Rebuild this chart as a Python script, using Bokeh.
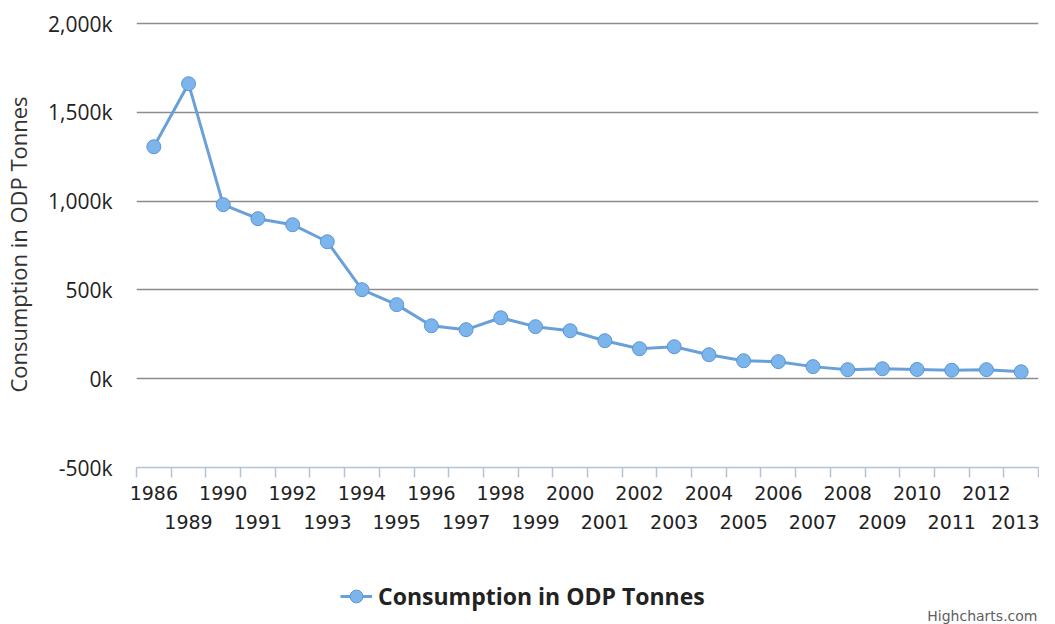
from bokeh.plotting import figure
from bokeh.layouts import column
from bokeh.models import (LinearAxis, FixedTicker, Range1d, Legend, LegendItem,
                          Label, Grid, ColumnDataSource)
from bokeh.embed import file_html
from bokeh.resources import INLINE

# ---- data ----
years = ["1986", "1989", "1990", "1991", "1992", "1993", "1994", "1995", "1996",
         "1997", "1998", "1999", "2000", "2001", "2002", "2003", "2004", "2005",
         "2006", "2007", "2008", "2009", "2010", "2011", "2012", "2013"]
consumption_k = [1306, 1661, 980, 901, 867, 771, 501, 417, 298, 276, 343, 293,
                 270, 214, 169, 180, 135, 101, 96, 68, 51, 56, 52, 48, 51, 39]
series_name = "Consumption in ODP Tonnes"
y_ticks = [-500, 0, 500, 1000, 1500, 2000]
y_tick_labels = ["-500k", "0k", "500k", "1,000k", "1,500k", "2,000k"]
credit_text = "Highcharts.com"

LINE_COLOR = "#6aa0da"
FILL_COLOR = "#7cb5ec"
EDGE_COLOR = "#5c96d2"
AXIS_COLOR = "#b4c4d4"
W = 1039
H_MAIN = 535
H_FOOT = 89
TOP_PAD_PX = 2          # room so the top grid line is not clipped
FRAME_H = 444           # pixel height of the y_ticks span

n = len(years)
xs = [i + 0.5 for i in range(n)]
src = ColumnDataSource(dict(x=xs, y=consumption_k, year=years))

y_lo, y_hi = y_ticks[0], y_ticks[-1]
y_top = y_hi + (y_hi - y_lo) * TOP_PAD_PX / FRAME_H

p = figure(width=W, height=H_MAIN, output_backend="svg", toolbar_location=None,
           x_range=Range1d(0, n), y_range=Range1d(y_lo, y_top),
           x_axis_location=None, y_axis_location=None,
           min_border_left=131, min_border_right=1, min_border_top=23 - TOP_PAD_PX,
           min_border_bottom=68)
p.outline_line_color = None
p.background_fill_color = "white"
p.border_fill_color = "white"
for g in p.grid:
    g.visible = False

# y axis
yax = LinearAxis(ticker=FixedTicker(ticks=y_ticks, minor_ticks=[]),
                 major_label_overrides={t: l for t, l in zip(y_ticks, y_tick_labels)},
                 axis_line_color=None, major_tick_line_color=None,
                 minor_tick_line_color=None,
                 major_label_text_font="Open Sans", major_label_text_font_size="21px",
                 major_label_text_color="#222222", major_label_standoff=18,
                 axis_label=series_name, axis_label_text_font="Open Sans",
                 axis_label_text_font_size="22px", axis_label_text_font_style="normal",
                 axis_label_text_color="#333333", axis_label_standoff=12)
p.add_layout(yax, "left")
p.add_layout(Grid(dimension=1, ticker=yax.ticker, grid_line_color="#8c8c8c",
                  grid_line_width=1.5))

# x axes (staggered labels, ticks between categories)
even_c = [xs[i] for i in range(0, n, 2)]
odd_c = [xs[i] for i in range(1, n, 2)]
xax1 = LinearAxis(ticker=FixedTicker(ticks=even_c, minor_ticks=list(range(n + 1))),
                  major_label_overrides={xs[i]: years[i] for i in range(0, n, 2)},
                  axis_line_color=AXIS_COLOR, axis_line_width=1.5,
                  major_tick_line_color=None, major_tick_out=0, major_tick_in=0,
                  minor_tick_line_color=AXIS_COLOR, minor_tick_line_width=1.5,
                  minor_tick_out=10, minor_tick_in=0,
                  major_label_text_font="DejaVu Sans", major_label_text_font_size="19px",
                  major_label_text_color="#222222", major_label_standoff=8)
xax2 = LinearAxis(ticker=FixedTicker(ticks=odd_c, minor_ticks=[]),
                  major_label_overrides={xs[i]: years[i] for i in range(1, n, 2)},
                  axis_line_color=None, major_tick_line_color=None,
                  minor_tick_line_color=None, major_tick_out=0, major_tick_in=0,
                  major_label_text_font="DejaVu Sans", major_label_text_font_size="19px",
                  major_label_text_color="#222222", major_label_standoff=12)
p.add_layout(xax1, "below")
p.add_layout(xax2, "below")

p.line("x", "y", source=src, line_color=LINE_COLOR, line_width=3)
p.scatter("x", "y", source=src, size=14, fill_color=FILL_COLOR,
          line_color=EDGE_COLOR, line_width=1)

# ---- footer: legend + credit ----
f = figure(width=W, height=H_FOOT, output_backend="svg", toolbar_location=None,
           x_range=Range1d(0, W), y_range=Range1d(0, H_FOOT),
           x_axis_location=None, y_axis_location=None, min_border=0)
f.outline_line_color = None
for g in f.grid:
    g.visible = False
lr = f.line("x", "y", source=src, line_color=LINE_COLOR, line_width=3, visible=False)
sr = f.scatter("x", "y", source=src, size=14, fill_color=FILL_COLOR,
               line_color=EDGE_COLOR, line_width=1, visible=False)
legend = Legend(items=[LegendItem(label=series_name, renderers=[lr, sr])],
                location=(204, 11), border_line_color=None,
                background_fill_alpha=0, padding=0, margin=0, glyph_width=32,
                glyph_height=34, label_height=20, label_standoff=6,
                label_text_font="Open Sans",
                label_text_font_style="bold", label_text_font_size="23px",
                label_text_color="#222222")
f.add_layout(legend)
f.add_layout(Label(x=901, y=9, x_units="screen", y_units="screen",
                   text=credit_text, text_align="right", text_baseline="alphabetic",
                   text_font="DejaVu Sans", text_font_size="14px",
                   text_color="#606060"))

open("out.html", "w").write(file_html(column(p, f, spacing=0), INLINE))
